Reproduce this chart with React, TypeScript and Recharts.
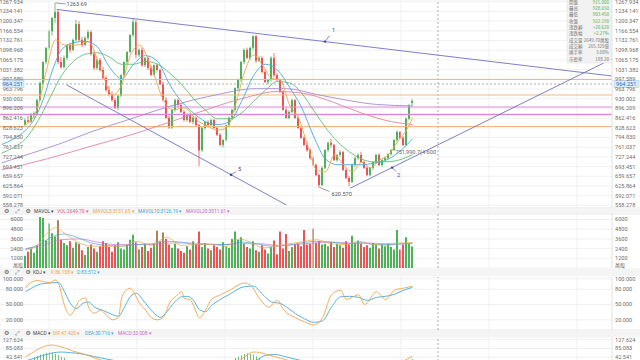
import React from 'react';
import {
  ComposedChart, Bar, Line, XAxis, YAxis, CartesianGrid, ReferenceLine, ReferenceDot, Cell,
} from 'recharts';

/* ---------------- data ---------------- */
const firstCandleIndex = 8;

// [open, high, low, close]
const candles: number[][] = [
  [840, 862, 832, 855], [855, 870, 845, 850], [850, 880, 846, 872], [872, 885, 860, 880],
  [880, 930, 876, 925], [925, 990, 920, 985], [985, 1060, 980, 1058], [1058, 1110, 1050, 1107],
  [1107, 1170, 1100, 1165], [1165, 1215, 1150, 1211], [1211, 1263.69, 1195, 1232], [1232, 1240, 1050, 1058],
  [1058, 1075, 1035, 1040], [1040, 1080, 1035, 1072], [1072, 1120, 1065, 1117], [1117, 1125, 1090, 1100],
  [1100, 1140, 1095, 1135], [1135, 1204, 1130, 1190], [1190, 1200, 1128, 1135], [1135, 1145, 1110, 1117],
  [1117, 1148, 1112, 1141], [1141, 1170, 1135, 1162], [1162, 1168, 1080, 1085], [1085, 1095, 1030, 1037],
  [1037, 1070, 1030, 1065], [1065, 1072, 1025, 1030], [1030, 1040, 995, 1002], [1002, 1010, 955, 960],
  [960, 975, 938, 945], [945, 955, 920, 925], [925, 932, 893, 898], [898, 945, 890, 940],
  [940, 1015, 935, 1012], [1012, 1060, 1005, 1058], [1058, 1095, 1050, 1093], [1093, 1155, 1088, 1152],
  [1152, 1211, 1145, 1197], [1197, 1205, 1070, 1082], [1082, 1105, 1075, 1100], [1100, 1108, 1040, 1047],
  [1047, 1075, 1040, 1072], [1072, 1078, 1030, 1037], [1037, 1045, 1008, 1013], [1013, 1050, 1010, 1047],
  [1047, 1052, 1025, 1030], [1030, 1035, 978, 980], [980, 990, 920, 925], [925, 935, 860, 863],
  [863, 870, 825, 830], [830, 895, 825, 891], [891, 930, 885, 925], [925, 930, 900, 908],
  [908, 915, 880, 884], [884, 890, 850, 856], [856, 878, 850, 873], [873, 880, 845, 849],
  [849, 868, 840, 863], [863, 868, 832, 838], [838, 842, 695, 750], [750, 835, 745, 828],
  [828, 852, 822, 849], [849, 855, 830, 838], [838, 860, 835, 856], [856, 860, 825, 828],
  [828, 832, 800, 804], [804, 810, 765, 769], [769, 790, 760, 786], [786, 840, 780, 838],
  [838, 868, 832, 863], [863, 895, 858, 891], [891, 970, 885, 967], [967, 1000, 960, 995],
  [995, 1062, 990, 1058], [1058, 1105, 1050, 1100], [1100, 1108, 1068, 1072], [1072, 1112, 1065, 1107],
  [1107, 1150, 1100, 1148], [1148, 1152, 1055, 1062], [1062, 1080, 1058, 1072], [1072, 1078, 1018, 1023],
  [1023, 1030, 985, 988], [988, 1000, 980, 995], [995, 1078, 990, 1072], [1072, 1089, 1005, 1012],
  [1012, 1020, 990, 995], [995, 1000, 950, 953], [953, 960, 888, 891], [891, 900, 860, 863],
  [863, 890, 858, 884], [884, 930, 880, 925], [925, 928, 860, 863], [863, 870, 825, 828],
  [828, 832, 790, 793], [793, 800, 765, 769], [769, 780, 745, 751], [751, 758, 718, 723],
  [723, 730, 695, 699], [699, 705, 660, 664], [664, 670, 620.57, 629], [629, 695, 625, 689],
  [689, 755, 685, 751], [751, 780, 745, 776], [776, 790, 760, 769], [769, 772, 712, 716],
  [716, 738, 710, 734], [734, 750, 728, 744], [744, 748, 678, 682], [682, 690, 650, 654],
  [654, 660, 625, 640], [640, 705, 636, 699], [699, 728, 692, 723], [723, 740, 715, 734],
  [734, 745, 705, 709], [709, 715, 685, 689], [689, 695, 660, 664], [664, 692, 660, 689],
  [689, 712, 682, 709], [709, 738, 702, 734], [734, 740, 695, 699], [699, 720, 692, 716],
  [716, 728, 710, 723], [723, 740, 718, 737], [737, 755, 732, 751], [751, 790, 748, 786],
  [786, 820, 780, 814], [814, 818, 790, 793], [793, 800, 765, 769], [769, 865, 765, 860],
  [860, 912, 855, 905], [915, 928.65, 903.45, 922.19],
];

const volumes: number[] = [
  1500, 2000, 2400, 1900, 2800, 6300, 6200, 3400, 5500, 4300,
  3900, 5900, 3500, 3100, 2800, 3300, 2500, 3200, 3000, 2200,
  1600, 2600, 2900, 2400, 2000, 2700, 3300, 3100, 2600, 2000,
  2800, 3200, 2400, 2300, 2900, 3500, 4100, 3200, 2300, 2600,
  3000, 2100, 2500, 3000, 4600, 3300, 4400, 3600, 2900, 2500,
  3000, 2400, 2100, 1900, 2700, 2300, 3300, 2900, 4500, 2600,
  3100, 2400, 2200, 2800, 2600, 2300, 3200, 2700, 2500, 3600,
  4500, 3500, 3800, 3000, 2600, 2400, 3300, 2200, 2000, 2800,
  2300, 1800, 2600, 3400, 1700, 4500, 2400, 4200, 2100, 2600,
  2900, 3000, 2700, 4700, 2900, 3000, 4900, 3100, 3300, 2900,
  3000, 2700, 3200, 2600, 3000, 2800, 2500, 3300, 2900, 4000,
  3100, 3400, 3000, 2600, 2800, 2500, 3100, 2900, 2400, 2900,
  2700, 3000, 2600, 2300, 4700, 2300, 2900, 3800, 3000, 2649.7,
];
const brownVolumeBars = [19, 52, 54, 81, 104, 106];

// moving averages: [index, value]
const ma5: number[][] = [
  [8, 838], [12, 898], [15, 1030], [18, 1135], [21, 1117], [25, 1117], [29, 1128], [33, 1037],
  [37, 943], [40, 978], [43, 1082], [46, 1117], [50, 1037], [54, 925], [57, 891], [61, 898],
  [65, 856], [68, 838], [72, 821], [75, 828], [78, 908], [81, 1023], [84, 1082], [87, 1047],
  [90, 1002], [93, 995], [96, 908], [99, 863], [102, 769], [105, 682], [108, 675], [111, 734],
  [114, 699], [117, 675], [120, 709], [123, 689], [126, 716], [129, 734], [132, 779], [135, 821], [137, 863],
];
const ma10: number[][] = [
  [0, 770], [4, 790], [8, 820], [11, 860], [14, 930], [17, 1030], [20, 1100], [24, 1125],
  [28, 1130], [32, 1110], [36, 1040], [40, 1000], [44, 1050], [48, 1080], [52, 1060], [56, 980],
  [60, 920], [64, 880], [68, 850], [72, 840], [76, 850], [80, 920], [84, 1010], [88, 1050],
  [92, 1030], [96, 970], [100, 900], [104, 800], [108, 720], [112, 700], [116, 700], [120, 700],
  [124, 705], [128, 715], [132, 740], [137, 790],
];
const ma20: number[][] = [
  [0, 740], [4, 760], [8, 790], [12, 850], [16, 930], [20, 1010], [24, 1060], [28, 1085],
  [32, 1090], [36, 1075], [40, 1050], [44, 1050], [48, 1060], [52, 1050], [56, 1020], [60, 980],
  [64, 930], [68, 890], [72, 860], [76, 860], [80, 880], [84, 920], [88, 960], [92, 990],
  [96, 985], [100, 950], [104, 890], [108, 830], [112, 780], [116, 745], [120, 720], [124, 710],
  [128, 710], [132, 715], [137, 735],
];
const ma30: number[][] = [
  [0, 706], [10, 740], [20, 775], [30, 815], [42, 856], [55, 900], [70, 940], [85, 965],
  [95, 965], [105, 945], [115, 925], [125, 910], [137, 905],
];
const ma60: number[][] = [
  [0, 682], [15, 720], [30, 765], [45, 810], [53, 838], [65, 880], [80, 930], [92, 955],
  [100, 950], [110, 920], [120, 880], [130, 850], [137, 840],
];

const mavol5: number[][] = [
  [8, 2200], [12, 2800], [15, 4200], [18, 5000], [21, 4300], [25, 3300], [30, 2700], [35, 2700],
  [40, 2700], [45, 3300], [50, 2800], [55, 3800], [60, 2800], [65, 2900], [70, 2900], [75, 2700],
  [79, 3600], [83, 3200], [87, 2500], [92, 2700], [96, 3000], [101, 3300], [105, 3500], [110, 3000],
  [115, 2900], [119, 3300], [124, 2900], [129, 2800], [133, 3100], [137, 3131.65],
];
const mavol10: number[][] = [
  [8, 2300], [13, 3000], [17, 3900], [21, 4200], [25, 3800], [30, 3100], [35, 2800], [40, 2700],
  [45, 2900], [50, 3000], [55, 3300], [60, 3200], [65, 2900], [70, 2900], [75, 2900], [80, 3200],
  [85, 3000], [90, 2700], [95, 2800], [100, 3100], [105, 3300], [110, 3200], [115, 3000], [120, 3100],
  [125, 2900], [130, 2900], [137, 3126.19],
];
const mavol20: number[][] = [
  [8, 2400], [14, 2800], [20, 3500], [26, 3600], [32, 3200], [38, 2900], [44, 2900], [50, 2900],
  [56, 3100], [62, 3100], [68, 3000], [74, 2900], [80, 3000], [86, 3000], [92, 2800], [98, 2900],
  [104, 3100], [110, 3200], [116, 3100], [122, 3100], [128, 3000], [137, 3011.61],
];

const kdjK: number[][] = [
  [8, 82], [9, 90], [12, 97], [14, 95], [16, 93], [18, 98], [19, 92], [20, 70], [21, 48], [23, 29],
  [24, 36], [26, 58], [28, 63], [29, 45], [31, 33], [33, 39], [35, 29], [37, 20], [39, 25], [40, 62],
  [42, 80], [43, 82], [44, 75], [46, 53], [48, 39], [50, 24], [52, 20], [54, 25], [56, 53], [58, 65],
  [60, 75], [61, 62], [63, 59], [64, 48], [66, 24], [68, 39], [70, 60], [73, 69], [76, 78], [81, 92],
  [83, 88], [86, 62], [89, 45], [92, 58], [94, 40], [98, 24], [101, 16], [104, 10], [107, 24], [110, 69],
  [113, 78], [115, 60], [119, 69], [121, 50], [125, 75], [128, 60], [131, 78], [134, 82], [137, 86.108],
];
const kdjD: number[][] = [
  [8, 75], [10, 82], [13, 90], [16, 92], [19, 93], [21, 75], [23, 52], [25, 42], [27, 52], [29, 55],
  [31, 45], [34, 38], [37, 30], [39, 27], [41, 45], [43, 66], [45, 72], [47, 60], [49, 45], [51, 32],
  [53, 25], [55, 35], [57, 50], [60, 65], [62, 66], [64, 58], [66, 40], [68, 36], [70, 48], [73, 60],
  [76, 70], [81, 85], [84, 86], [87, 70], [90, 55], [93, 52], [95, 45], [98, 32], [101, 22], [104, 15],
  [107, 18], [110, 45], [113, 65], [116, 66], [119, 64], [122, 58], [125, 64], [128, 66], [131, 70],
  [134, 78], [137, 83.512],
];

const macdDif: number[][] = [
  [8, 45], [10, 62], [12, 80], [14, 94], [16, 101], [17, 102], [19, 96], [21, 88], [24, 72], [28, 56],
  [32, 34], [36, 18], [40, 8], [44, 14], [48, 16], [52, 8], [56, -10], [60, -25], [64, -35], [68, -42],
  [72, -38], [75, -20], [78, 10], [81, 45], [84, 68], [86, 66], [88, 58], [91, 46], [95, 30], [99, 10],
  [103, -15], [107, -38], [111, -48], [115, -48], [119, -40], [123, -30], [127, -15], [131, 5], [134, 25],
  [137, 47.42],
];
const macdDea: number[][] = [
  [8, 25], [11, 38], [14, 52], [17, 64], [20, 68], [23, 65], [27, 58], [31, 46], [35, 34], [40, 22],
  [45, 16], [50, 12], [55, 4], [60, -8], [65, -20], [70, -28], [74, -28], [78, -18], [82, 5], [85, 28],
  [88, 52], [91, 56], [95, 44], [99, 30], [103, 15], [107, -2], [111, -18], [115, -30], [119, -35],
  [123, -34], [127, -28], [131, -15], [134, 5], [137, 30.716],
];
const macdHist: number[][] = [
  [11, 42], [12, 50], [13, 56], [14, 60], [15, 64], [16, 66], [17, 64], [18, 60], [19, 54], [20, 46],
  [21, 40], [78, 40], [79, 46], [80, 52], [81, 58], [82, 62], [83, 60], [84, 56], [85, 48], [86, 40],
  [134, 24], [135, 28], [136, 30], [137, 33.008],
];

const priceTicks = [
  1267.934, 1234.141, 1200.347, 1166.554, 1132.761, 1098.968, 1065.175, 1031.382, 997.589,
  963.796, 930.002, 896.209, 862.416, 828.623, 794.83, 761.037, 727.244, 693.451, 659.657,
  625.864, 592.071, 558.278,
];
const volumeTicks = [1200, 2400, 3600, 4800, 6000];
const kdjTicks = [20, 50, 80, 100];
const macdTicks = [42.541, 85.083, 127.624];
const gridColumns = [15.8, 45.2, 74.5, 103.8, 133.2, 162.5, 191.8];

const orangeLevels = [996.9, 942.9, 833.1];
const magentaLevels = [901.1, 874.9];

const trendLine1 = [[18.4, 1241], [203.5, 1009]];
const trendLine2 = [[116.2, 618], [203.5, 1068.7]];
const trendLine5 = [[21.7, 978], [94.9, 560]];
const toolMarks: { id: string; at: number[] }[] = [
  { id: '1', at: [107.8, 1128.9] },
  { id: '2', at: [130.2, 690] },
  { id: '5', at: [76.5, 665] },
];
const peakPoint = [18, 1263.69];
const lowPoint = [106, 620.57];
const notePoint = [131, 744];
const noteText = '751,990.7(4.600';
const crosshairIndex = 145.5;
const crosshairPrice = 981.2;
const crosshairText = '964.251';

const infoLabels = ['開盤', '最高', '最低', '收盤', '漲跌額', '漲跌幅', '成交量', '成交額', '換手率', '市盈率'];
const infoValues = ['915.000', '928.650', '903.450', '922.190', '+20.620', '+2.27%', '2649.70萬股', '265.329億', '3.08%', '188.20'];

const volHeader = ['MAVOL ▾', 'VOL:2649.70 ▾', 'MAVOL5:3131.65 ▾', 'MAVOL10:3126.19 ▾', 'MAVOL20:3011.61 ▾'];
const kdjHeader = ['KDJ ▾', 'K:86.108 ▾', 'D:83.512 ▾'];
const macdHeader = ['MACD ▾', 'DIF:47.420 ▾', 'DEA:30.716 ▾', 'MACD:33.008 ▾'];

/* ---------------- derived tables ---------------- */
const priceData = candles.map(([o, h, l, c], k) => ({ i: firstCandleIndex + k, o, h, l, c, range: [l, h] }));
const volumeData = volumes.map((v, k) => ({
  i: firstCandleIndex + k, v, up: candles[k][3] >= candles[k][0],
  brown: brownVolumeBars.includes(firstCandleIndex + k),
}));
const series = (pts: number[][]) => pts.map(([i, v]) => ({ i, v }));
const histData = macdHist.map(([i, m]) => ({ i, m }));

/* ---------------- styles ---------------- */
const FONT = 'Roboto, "Noto Sans", sans-serif';
const CJK = '"Noto Sans CJK TC", "Noto Sans CJK SC", sans-serif';
const ICON = '"DejaVu Sans", sans-serif';
const GREEN = '#4fb158';
const RED = '#ea5455';
const BROWN = '#a9825e';
const GRID = '#eeeeee';
const AXIS_TXT = '#6e6e6e';
const AXIS_LINE = '#e2e2e2';
const AXIS_FS = 5.6;
const X_DOMAIN: [number, number] = [-0.5, 203.5];
const PRICE_DOMAIN: [number, number] = [549.2, 1273.86];
const VOL_DOMAIN: [number, number] = [0, 6804];
const KDJ_DOMAIN: [number, number] = [0, 103.92];
const MACD_DOMAIN: [number, number] = [-52.7, 140.67];
const C_ORANGE = '#f2a445';
const C_BLUE = '#45a8dc';
const C_GREEN = '#62bd72';
const C_PURPLE = '#a58ad6';
const C_PINK = '#e382ab';
const TREND = '#6e71c4';
const MARK = '#3c3f9c';

const fmt3 = (v: number) => v.toFixed(3);
const fmt0 = (v: number) => String(v);

const rightTick = (fmt: (v: number) => string) => (p: any) => (
  <text x={p.x} y={p.y} dy={2} fontSize={AXIS_FS} fill={AXIS_TXT} fontFamily={FONT} textAnchor="start">
    {fmt(p.payload.value)}
  </text>
);
const leftTickLabel = (text: string) => (p: any) => {
  const vb = p.viewBox || {};
  return (
    <text x={(vb.x || 0) + 23} y={vb.y} dy={2} fontSize={AXIS_FS} fill={AXIS_TXT} fontFamily={FONT} textAnchor="end">
      {text}
    </text>
  );
};

const Candle = (props: any) => {
  const { x, y, width, height, payload } = props;
  const { o, h, l, c } = payload;
  const top = Math.min(y, y + height);
  const hh = Math.abs(height);
  if (!(h > l) || !isFinite(top)) return null;
  const k = hh / (h - l);
  const py = (v: number) => top + (h - v) * k;
  const color = c >= o ? GREEN : RED;
  const cx = x + width / 2;
  const bt = py(Math.max(o, c));
  const bb = py(Math.min(o, c));
  return (
    <g>
      <line x1={cx} x2={cx} y1={top} y2={top + hh} stroke={color} strokeWidth={0.8} />
      <rect x={x} y={bt} width={width} height={Math.max(0.8, bb - bt)} fill={color} />
    </g>
  );
};

const axes = (domain: [number, number], ticks: number[], fmt: (v: number) => string) => [
  <XAxis key="x" type="number" dataKey="i" domain={X_DOMAIN} hide allowDataOverflow />,
  <YAxis key="r" yAxisId="r" orientation="right" width={28} domain={domain} ticks={ticks} interval={0}
    allowDataOverflow tickSize={0} tickMargin={3} tick={rightTick(fmt)} axisLine={{ stroke: AXIS_LINE }} tickLine={false} />,
  <CartesianGrid key="g" yAxisId="r" vertical={false} stroke={GRID} strokeWidth={0.8} />,
  ...gridColumns.map((g) => <ReferenceLine key={'v' + g} yAxisId="r" x={g} stroke={GRID} strokeWidth={0.8} />),
  <ReferenceLine key="cross" yAxisId="r" x={crosshairIndex} stroke="#9a9a9a" strokeDasharray="2 2" strokeWidth={0.8} />,
];
const leftLabels = (ticks: number[], fmt: (v: number) => string) =>
  ticks.map((t) => (
    <ReferenceLine key={'lt' + t} yAxisId="r" y={t} stroke="none" label={leftTickLabel(fmt(t))} />
  ));

const mline = (pts: number[][], color: string, key: string, w = 0.9) => (
  <Line key={key} yAxisId="r" data={series(pts)} dataKey="v" type="monotone" stroke={color} strokeWidth={w}
    dot={false} activeDot={false} isAnimationActive={false} />
);

const textLabel = (text: string, dx: number, dy: number, color: string, line?: number[]) => (p: any) => {
  const vb = p.viewBox || {};
  const x = (vb.x || 0) + (vb.width || 0) / 2;
  const y = (vb.y || 0) + (vb.height || 0) / 2;
  return (
    <g>
      {line ? <line x1={x} y1={y} x2={x + line[0]} y2={y + line[1]} stroke={color} strokeWidth={0.6} /> : null}
      <text x={x + dx} y={y + dy} fontSize={5.6} fill={color} fontFamily={FONT}>{text}</text>
    </g>
  );
};

const CrossLabel = (p: any) => {
  const vb = p.viewBox || {};
  const y = vb.y;
  const right = vb.x + vb.width;
  return (
    <g fontFamily={FONT} fontSize={AXIS_FS}>
      <rect x={vb.x + 3} y={y - 3.5} width={21} height={7} fill="#dcebfa" stroke="#9ec5ee" strokeWidth={0.5} />
      <text x={vb.x + 23} y={y + 2} textAnchor="end" fill="#2f6fb8">{crosshairText}</text>
      <rect x={right + 2} y={y - 3.5} width={25} height={7} fill="#dcebfa" stroke="#9ec5ee" strokeWidth={0.5} />
      <text x={right + 4} y={y + 2} fill="#2f6fb8">{crosshairText}</text>
    </g>
  );
};

function PriceChart() {
  return (
    <ComposedChart width={640} height={208} data={priceData} margin={{ top: 0, right: 0, bottom: 0, left: 0 }}>
      {axes(PRICE_DOMAIN, priceTicks, fmt3)}
      {orangeLevels.map((v) => <ReferenceLine key={'o' + v} yAxisId="r" y={v} stroke="#f5b57e" strokeWidth={1} />)}
      {magentaLevels.map((v, k) => (
        <ReferenceLine key={'m' + v} yAxisId="r" y={v} stroke="#d98ad9" strokeWidth={k === 1 ? 1.6 : 1.1} />
      ))}
      {mline(ma60, C_PINK, 'ma60')}
      {mline(ma30, C_PURPLE, 'ma30')}
      {mline(ma20, C_GREEN, 'ma20')}
      {mline(ma10, C_BLUE, 'ma10')}
      {mline(ma5, C_ORANGE, 'ma5')}
      <Bar yAxisId="r" dataKey="range" barSize={2} shape={Candle} isAnimationActive={false} />
      {leftLabels(priceTicks, fmt3)}
      <ReferenceLine yAxisId="r" y={crosshairPrice} stroke="#9a9a9a" strokeDasharray="2 2" strokeWidth={0.8}
        label={CrossLabel} />
      {[trendLine1, trendLine2, trendLine5].map((t, k) => (
        <ReferenceLine key={'t' + k} yAxisId="r" stroke={TREND} strokeWidth={0.9}
          segment={[{ x: t[0][0], y: t[0][1] }, { x: t[1][0], y: t[1][1] }]} />
      ))}
      {toolMarks.map((m) => (
        <ReferenceDot key={'mk' + m.id} yAxisId="r" x={m.at[0]} y={m.at[1]} r={1.2} fill={MARK} stroke="none"
          label={textLabel(m.id, m.id === '2' ? 5 : 7, m.id === '1' ? -10 : m.id === '2' ? 9 : -4, MARK,
            m.id === '1' ? [5, -6] : m.id === '2' ? [4, 4] : [5, -3])} />
      ))}
      <ReferenceDot yAxisId="r" x={peakPoint[0]} y={peakPoint[1]} r={0} fill="none" stroke="none"
        label={textLabel('1263.69', 11, 3, '#555', [10, 1])} />
      <ReferenceDot yAxisId="r" x={lowPoint[0]} y={lowPoint[1]} r={0} fill="none" stroke="none"
        label={textLabel('620.570', 12, 8, '#555', [10, 4])} />
      <ReferenceDot yAxisId="r" x={notePoint[0]} y={notePoint[1]} r={0} fill="none" stroke="none"
        label={textLabel(noteText, 1, 2, '#666')} />
    </ComposedChart>
  );
}

function VolumeChart() {
  return (
    <ComposedChart width={640} height={55} data={volumeData} margin={{ top: 0, right: 0, bottom: 0, left: 0 }}>
      {axes(VOL_DOMAIN, volumeTicks, fmt0)}
      <Bar yAxisId="r" dataKey="v" barSize={2} isAnimationActive={false}>
        {volumeData.map((d) => <Cell key={d.i} fill={d.brown ? BROWN : d.up ? GREEN : RED} />)}
      </Bar>
      {mline(mavol20, '#c774cf', 'mv20', 0.7)}
      {mline(mavol10, C_BLUE, 'mv10', 0.7)}
      {mline(mavol5, C_ORANGE, 'mv5', 0.7)}
      {leftLabels(volumeTicks, fmt0)}
    </ComposedChart>
  );
}

function KdjChart() {
  return (
    <ComposedChart width={640} height={53} data={series(kdjK)} margin={{ top: 0, right: 0, bottom: 0, left: 0 }}>
      {axes(KDJ_DOMAIN, kdjTicks, fmt3)}
      {mline(kdjD, C_BLUE, 'd')}
      {mline(kdjK, C_ORANGE, 'k')}
      {leftLabels(kdjTicks, fmt3)}
    </ComposedChart>
  );
}

function MacdChart() {
  return (
    <ComposedChart width={640} height={40} data={histData} margin={{ top: 0, right: 0, bottom: 0, left: 0 }}>
      {axes(MACD_DOMAIN, macdTicks, fmt3)}
      <Bar yAxisId="r" dataKey="m" barSize={1} fill="#72c27a" isAnimationActive={false} />
      {mline(macdDea, C_BLUE, 'dea')}
      {mline(macdDif, C_ORANGE, 'dif')}
      {leftLabels(macdTicks, fmt3)}
    </ComposedChart>
  );
}

const headerColors = ['#444', '#e0608a', C_ORANGE, C_BLUE, '#c46bcf'];
const kdjColors = ['#444', C_ORANGE, C_BLUE];
const macdColors = ['#444', C_ORANGE, C_BLUE, '#c46bcf'];

function Header({ y, items, colors, xs }: { y: number; items: string[]; colors: string[]; xs: number[] }) {
  return (
    <g>
      <rect x={0} y={y - 4} width={640} height={8} fill="#f4f4f4" />
      <text x={4} y={y + 2} fontSize={6} fontFamily={ICON} fill="#555">⚙</text>
      <text x={14.5} y={y + 2} fontSize={5.5} fontFamily={ICON} fill="#555">⤢</text>
      <text x={25.5} y={y + 2} fontSize={6} fontFamily={ICON} fill="#555">⚙</text>
      {items.map((t, k) => (
        <text key={t} x={xs[k]} y={y + 1.7} fontSize={4.8} fontFamily={FONT} fill={colors[k]}>{t}</text>
      ))}
    </g>
  );
}

export default function App() {
  return (
    <div style={{ position: 'fixed', left: 0, top: 0, width: 640, height: 360, overflow: 'hidden', background: '#fff' }}>
      <svg width={640} height={360} style={{ position: 'absolute', left: 0, top: 0 }}>
        <Header y={211} items={volHeader} colors={headerColors} xs={[34, 57, 93, 138, 186]} />
        <Header y={272.3} items={kdjHeader} colors={kdjColors} xs={[33, 51, 77]} />
        <Header y={333} items={macdHeader} colors={macdColors} xs={[33, 53, 85, 118]} />
      </svg>
      <div style={{ position: 'absolute', left: 0, top: 0 }}><PriceChart /></div>
      <div style={{ position: 'absolute', left: 0, top: 213 }}><VolumeChart /></div>
      <div style={{ position: 'absolute', left: 0, top: 277 }}><KdjChart /></div>
      <div style={{ position: 'absolute', left: 0, top: 337 }}><MacdChart /></div>
      <svg width={640} height={360} style={{ position: 'absolute', left: 0, top: 0, pointerEvents: 'none' }}>
        <text x={23} y={266.5} fontSize={5} fontFamily={CJK} fill={AXIS_TXT} textAnchor="end">萬股</text>
        <text x={615} y={266.5} fontSize={5} fontFamily={CJK} fill={AXIS_TXT}>萬股</text>
        <rect x={567} y={-2} width={44} height={65} fill="#f2f2f2" stroke="#e0e0e0" strokeWidth={0.5} />
        {infoLabels.map((t, k) => (
          <g key={t}>
            <text x={569} y={3.6 + k * 6.35} fontSize={4.5} fontFamily={CJK} fill="#777">{t}</text>
            <text x={609} y={3.6 + k * 6.35} fontSize={4.5} fontFamily={CJK} textAnchor="end"
              fill={k < 6 ? '#4caf50' : '#777'}>{infoValues[k]}</text>
          </g>
        ))}
      </svg>
    </div>
  );
}
